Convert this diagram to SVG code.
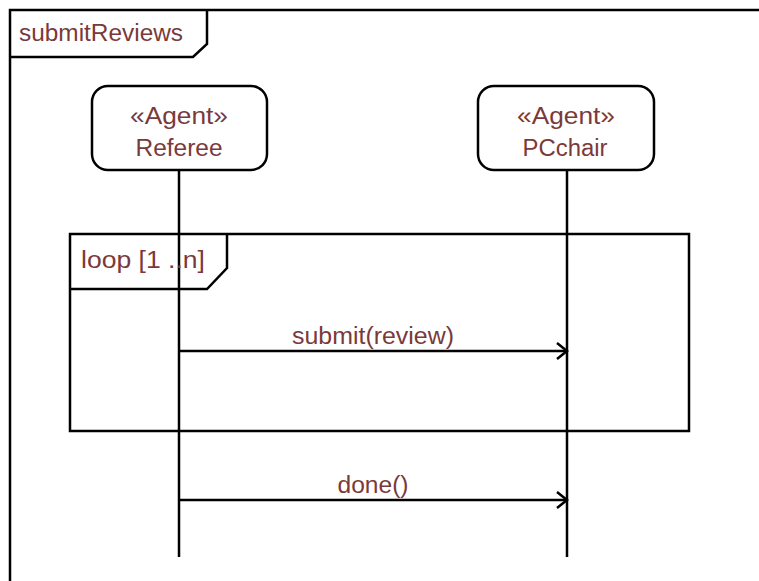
<svg xmlns="http://www.w3.org/2000/svg" width="759" height="581" viewBox="0 0 759 581">
  <style>
    .ln { fill: none; stroke: #000; stroke-width: 2.5; }
    .box { fill: #fff; stroke: #000; stroke-width: 2.5; }
    .lbl { font-family: "Liberation Sans", Arial, sans-serif; font-size: 23px; fill: #7a3a3a; }
    .mid { text-anchor: middle; }
  </style>
  <defs>
    <marker id="open" markerWidth="14" markerHeight="20" refX="12" refY="10" orient="auto" markerUnits="userSpaceOnUse">
      <path d="M2,2 L12,10 L2,18" fill="none" stroke="#000" stroke-width="2.5"/>
    </marker>
  </defs>

  <rect width="759" height="581" fill="#fff"/>

  <!-- sequence frame -->
  <g id="frame">
    <path class="ln" d="M10,581 V10 H759"/>
    <path class="ln" d="M10,57 H193 L207,44 V10"/>
    <text class="lbl" x="19" y="41" textLength="164" lengthAdjust="spacingAndGlyphs">submitReviews</text>
  </g>

  <!-- lifelines -->
  <g id="lifelines">
    <line class="ln" x1="179" y1="170" x2="179" y2="557"/>
    <line class="ln" x1="567" y1="170" x2="567" y2="557"/>
  </g>

  <!-- participants -->
  <g id="referee">
    <rect class="box" x="92" y="86" width="175" height="84" rx="16"/>
    <text class="lbl mid" x="179" y="124" textLength="98" lengthAdjust="spacingAndGlyphs">«Agent»</text>
    <text class="lbl mid" x="179" y="156" textLength="87" lengthAdjust="spacingAndGlyphs">Referee</text>
  </g>
  <g id="pcchair">
    <rect class="box" x="478" y="86" width="176" height="84" rx="16"/>
    <text class="lbl mid" x="566" y="124" textLength="98" lengthAdjust="spacingAndGlyphs">«Agent»</text>
    <text class="lbl mid" x="565" y="156" textLength="85" lengthAdjust="spacingAndGlyphs">PCchair</text>
  </g>

  <!-- loop fragment -->
  <g id="loop">
    <rect class="ln" x="70" y="234" width="619" height="197"/>
    <path class="ln" d="M70,289 H207 L227,268 V234"/>
    <text class="lbl" x="81" y="268" textLength="124" lengthAdjust="spacingAndGlyphs">loop [1 ..n]</text>
  </g>

  <!-- messages -->
  <g id="connectors">
    <line class="ln" x1="179" y1="351" x2="567" y2="351" marker-end="url(#open)"/>
    <text class="lbl mid" x="373" y="344" textLength="162" lengthAdjust="spacingAndGlyphs">submit(review)</text>
    <line class="ln" x1="179" y1="500" x2="567" y2="500" marker-end="url(#open)"/>
    <text class="lbl mid" x="373" y="493" textLength="71" lengthAdjust="spacingAndGlyphs">done()</text>
  </g>
</svg>
